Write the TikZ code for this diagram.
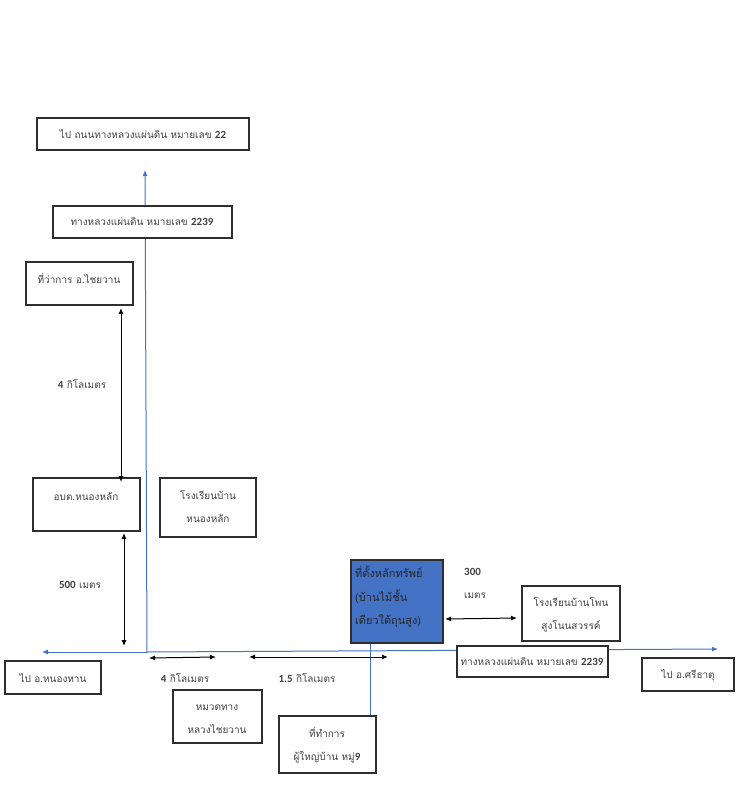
\documentclass[tikz,border=0pt]{standalone}
\usepackage{fontspec}
\newfontfamily\thai[Script=Thai]{Loma}
\newfontfamily\num{Carlito}
\usetikzlibrary{arrows.meta}

\definecolor{roadblue}{HTML}{4472C4}
\definecolor{boxline}{HTML}{2E2E2E}
\definecolor{txt}{HTML}{404040}

\tikzset{
  box/.style={draw=boxline, line width=1.6pt},
  lbl/.style={text=txt, font=\thai\fontsize{10}{23}\selectfont, inner sep=0pt},
  road/.style={draw=roadblue, line width=1pt},
  dist/.style={line width=1pt, {Latex[length=6pt,width=5pt]}-{Latex[length=6pt,width=5pt]}}
}
\newcommand{\nb}[1]{{\num\bfseries\fontsize{11}{23}\selectfont #1}}

\begin{document}
\begin{tikzpicture}[x=1pt, y=-1pt]
  \useasboundingbox (0,0) rectangle (743,800);

  % roads
  \coordinate (west) at (42,652);
  \coordinate (east) at (718,649);
  \coordinate (north) at (145,170);
  \coordinate (junction) at (147,652);
  \coordinate (lane top) at (370,643);
  \coordinate (lane end) at (370,716);

  \draw[road, -{Latex[length=6pt,width=5pt]}] (junction) -- (north);
  \draw[road, -{Latex[length=6pt,width=5pt]}] (junction) -- (west);
  \draw[road, -{Latex[length=6pt,width=5pt]}] (junction) -- (east);
  \draw[road] (lane top) -- (lane end);

  % boxes
  \draw[box] (37,118) rectangle (249,150);
  \draw[box, fill=white] (53,206) rectangle (232,238);
  \draw[box] (26,262) rectangle (133,305);
  \draw[box] (33,478) rectangle (140,531);
  \draw[box] (160,478) rectangle (256,537);
  \draw[box] (5,661) rectangle (101,694);
  \draw[box] (173,690) rectangle (262,743);
  \draw[box] (279,716) rectangle (376,773);
  \draw[box, fill=roadblue] (351,560) rectangle (443,643);
  \draw[box] (522,586) rectangle (620,641);
  \draw[box, fill=white] (457,646) rectangle (608,677);
  \draw[box] (642,658) rectangle (734,691);

  % labels
  \node[lbl] (to22) at (143,134) {ไป ถนนทางหลวงแผ่นดิน หมายเลข \nb{22}};
  \node[lbl] (hwy north) at (142,222) {ทางหลวงแผ่นดิน หมายเลข \nb{2239}};
  \node[lbl] (district) at (79,278) {ที่ว่าการ อ.ไชยวาน};
  \node[lbl] (sao) at (86,497) {อบต.หนองหลัก};
  \node[lbl, align=center] (school1) at (208,507) {โรงเรียนบ้าน\\หนองหลัก};
  \node[lbl, align=left, anchor=west, text=black!85, font=\thai\fontsize{11}{23.5}\selectfont] (asset) at (355,597) {ที่ตั้งหลักทรัพย์\\(บ้านไม้ชั้น\\เดียวใต้ถุนสูง)};
  \node[lbl, align=center] (school2) at (571,615) {โรงเรียนบ้านโพน\\สูงโนนสวรรค์};
  \node[lbl] (hwy east) at (532,662) {ทางหลวงแผ่นดิน หมายเลข \nb{2239}};
  \node[lbl] (to nonghan) at (53,678) {ไป อ.หนองหาน};
  \node[lbl] (to sithat) at (688,675) {ไป อ.ศรีธาตุ};
  \node[lbl, align=center] (depot) at (217,719) {หมวดทาง\\หลวงไชยวาน};
  \node[lbl, align=center] (headman) at (327,745) {ที่ทำการ\\ผู้ใหญ่บ้าน หมู่\nb{9}};

  \node[lbl] (d4a) at (82,384) {\nb{4} กิโลเมตร};
  \node[lbl] (d500) at (80,585) {\nb{500} เมตร};
  \node[lbl, align=left, anchor=west] (d300) at (464,583) {\nb{300}\\เมตร};
  \node[lbl] (d4b) at (185,678) {\nb{4} กิโลเมตร};
  \node[lbl] (d15) at (307,678) {\nb{1.5} กิโลเมตร};

  % distances
  \coordinate (a1) at (121,308);
  \coordinate (a2) at (121,482);
  \coordinate (b1) at (124,533);
  \coordinate (b2) at (124,646);
  \coordinate (c1) at (149,658);
  \coordinate (c2) at (216,657);
  \coordinate (e1) at (249,657);
  \coordinate (e2) at (388,657);
  \coordinate (f1) at (445,619);
  \coordinate (f2) at (517,618);

  \draw[dist] (a1) -- (a2);
  \draw[dist] (b1) -- (b2);
  \draw[dist] (c1) -- (c2);
  \draw[dist] (e1) -- (e2);
  \draw[dist] (f1) -- (f2);
\end{tikzpicture}
\end{document}
